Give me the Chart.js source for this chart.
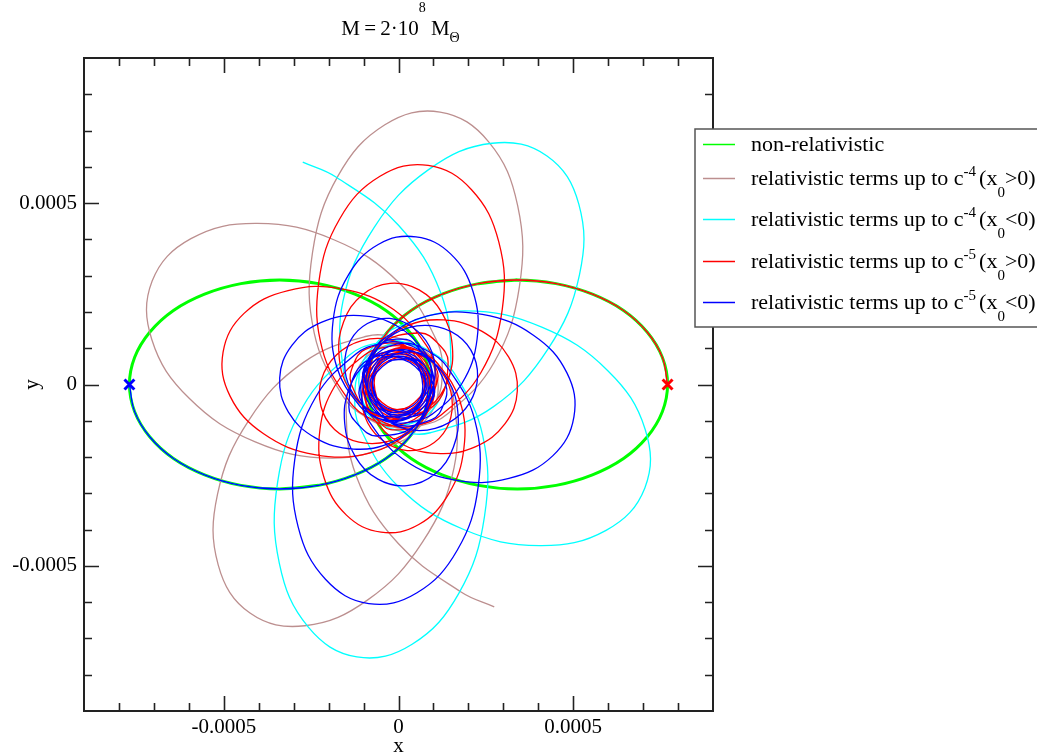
<!DOCTYPE html>
<html>
<head>
<meta charset="utf-8">
<script src="https://cdn.jsdelivr.net/npm/chart.js@4.4.1/dist/chart.umd.min.js"></script>
<style>
html,body{margin:0;padding:0;background:#fff;}
#wrap{width:1037px;height:754px;position:relative;}
</style>
</head>
<body>
<div id="wrap"><canvas id="c" width="1037" height="754"></canvas></div>
<script>
// ---------- texts ----------
const titleParts = [['M\u2009=\u20092·10','n'],['8','sup'],[' M','n'],['Θ','sub']];
const xTitle = 'x';
const yTitle = 'y';
const majorTicks = [-0.0005, 0, 0.0005];
const tickLabels = ['-0.0005', '0', '0.0005'];
const minorTicks = [-0.0008,-0.0007,-0.0006,-0.0004,-0.0003,-0.0002,-0.0001,0.0001,0.0002,0.0003,0.0004,0.0006,0.0007,0.0008];
const axisMin = -0.0009;
const axisMax = 0.0009;

const legendLabels = [
  [['non-relativistic','n']],
  [['relativistic terms up to c','n'],['-4','sup'],['(x','n'],['0','sub'],['>0)','n']],
  [['relativistic terms up to c','n'],['-4','sup'],['(x','n'],['0','sub'],['<0)','n']],
  [['relativistic terms up to c','n'],['-5','sup'],['(x','n'],['0','sub'],['>0)','n']],
  [['relativistic terms up to c','n'],['-5','sup'],['(x','n'],['0','sub'],['<0)','n']]
];
const seriesColors = ['#00ff00', '#bc8f8f', '#00ffff', '#ff0000', '#0000ff'];

// ---------- data ----------
const greenRight = [[3.4e-4,2.88e-4],[2.29e-4,2.78e-4],[1.25e-4,2.49e-4],[0.36e-4,2.04e-4],[-0.32e-4,1.44e-4],[-0.75e-4,0.75e-4],[-0.9e-4,0],[-0.75e-4,-0.75e-4],[-0.32e-4,-1.44e-4],[0.36e-4,-2.04e-4],[1.25e-4,-2.49e-4],[2.29e-4,-2.78e-4],[3.4e-4,-2.88e-4],[4.51e-4,-2.78e-4],[5.55e-4,-2.49e-4],[6.44e-4,-2.04e-4],[7.12e-4,-1.44e-4],[7.55e-4,-0.75e-4],[7.7e-4,0],[7.55e-4,0.75e-4],[7.12e-4,1.44e-4],[6.44e-4,2.04e-4],[5.55e-4,2.49e-4],[4.51e-4,2.78e-4],[3.4e-4,2.88e-4],[2.29e-4,2.78e-4]];
const greenLeft = [[-3.4e-4,-2.88e-4],[-2.29e-4,-2.78e-4],[-1.25e-4,-2.49e-4],[-0.36e-4,-2.04e-4],[0.32e-4,-1.44e-4],[0.75e-4,-0.75e-4],[0.9e-4,0],[0.75e-4,0.75e-4],[0.32e-4,1.44e-4],[-0.36e-4,2.04e-4],[-1.25e-4,2.49e-4],[-2.29e-4,2.78e-4],[-3.4e-4,2.88e-4],[-4.51e-4,2.78e-4],[-5.55e-4,2.49e-4],[-6.44e-4,2.04e-4],[-7.12e-4,1.44e-4],[-7.55e-4,0.75e-4],[-7.7e-4,0],[-7.55e-4,-0.75e-4],[-7.12e-4,-1.44e-4],[-6.44e-4,-2.04e-4],[-5.55e-4,-2.49e-4],[-4.51e-4,-2.78e-4],[-3.4e-4,-2.88e-4],[-2.29e-4,-2.78e-4]];

const brownPos = [
[7.7e-4,0],[7.55e-4,0.75e-4],[7.12e-4,1.44e-4],[6.44e-4,2.04e-4],[5.55e-4,2.49e-4],[4.51e-4,2.78e-4],[3.4e-4,2.88e-4],[2.29e-4,2.78e-4],[1.25e-4,2.49e-4],[0.36e-4,2.04e-4],[-0.32e-4,1.44e-4],[-0.75e-4,0.75e-4],[-0.92e-4,0],
[-0.85e-4,-0.73e-4],[-0.18e-4,-1.17e-4],
[0.61e-4,-1.14e-4],[1.39e-4,-0.82e-4],[2.73e-4,0.60e-4],[3.46e-4,2.70e-4],[3.41e-4,4.93e-4],[2.58e-4,6.69e-4],[1.19e-4,7.51e-4],[-0.39e-4,7.16e-4],[-1.73e-4,5.75e-4],[-2.46e-4,3.64e-4],[-2.41e-4,1.41e-4],[-1.57e-4,-0.35e-4],[-0.93e-4,-0.90e-4],[-0.18e-4,-1.17e-4],
[0.55e-4,-0.97e-4],[1.09e-4,-0.44e-4],
[1.25e-4,0.34e-4],[1.11e-4,1.17e-4],[0.03e-4,2.79e-4],[-1.85e-4,3.99e-4],[-4.04e-4,4.44e-4],[-5.94e-4,4.02e-4],[-7.05e-4,2.85e-4],[-7.06e-4,1.24e-4],[-5.99e-4,-0.38e-4],[-4.10e-4,-1.58e-4],[-1.92e-4,-2.03e-4],[-0.02e-4,-1.61e-4],[0.66e-4,-1.11e-4],[1.09e-4,-0.44e-4],
[1.07e-4,0.33e-4],[0.66e-4,0.98e-4],
[-0.07e-4,1.29e-4],[-0.91e-4,1.33e-4],[-2.72e-4,0.61e-4],[-4.28e-4,-0.98e-4],[-5.18e-4,-3.03e-4],[-5.16e-4,-4.97e-4],[-4.25e-4,-6.30e-4],[-2.68e-4,-6.65e-4],[-0.87e-4,-5.93e-4],[0.69e-4,-4.34e-4],[1.59e-4,-2.29e-4],[1.57e-4,-0.35e-4],[1.22e-4,0.42e-4],[0.66e-4,0.98e-4],
[-0.09e-4,1.12e-4],[-0.80e-4,0.86e-4],
[-1.27e-4,0.22e-4],[-1.50e-4,-0.59e-4],[-1.21e-4,-2.52e-4],[0,-4.39e-4],[1.79e-4,-5.72e-4],[2.74e-4,-6.13e-4]
];

const cyanNeg = [
[-7.7e-4,0],[-7.55e-4,-0.75e-4],[-7.12e-4,-1.44e-4],[-6.44e-4,-2.04e-4],[-5.55e-4,-2.49e-4],[-4.51e-4,-2.78e-4],[-3.4e-4,-2.88e-4],[-2.29e-4,-2.78e-4],[-1.25e-4,-2.49e-4],[-0.36e-4,-2.04e-4],[0.32e-4,-1.44e-4],[0.75e-4,-0.75e-4],[0.92e-4,0],
[0.85e-4,0.73e-4],[0.18e-4,1.17e-4],
[-0.61e-4,1.14e-4],[-1.39e-4,0.82e-4],[-2.73e-4,-0.60e-4],[-3.46e-4,-2.70e-4],[-3.41e-4,-4.93e-4],[-2.58e-4,-6.69e-4],[-1.19e-4,-7.51e-4],[0.39e-4,-7.16e-4],[1.73e-4,-5.75e-4],[2.46e-4,-3.64e-4],[2.41e-4,-1.41e-4],[1.57e-4,0.35e-4],[0.93e-4,0.90e-4],[0.18e-4,1.17e-4],
[-0.55e-4,0.97e-4],[-1.09e-4,0.44e-4],
[-1.25e-4,-0.34e-4],[-1.11e-4,-1.17e-4],[-0.03e-4,-2.79e-4],[1.85e-4,-3.99e-4],[4.04e-4,-4.44e-4],[5.94e-4,-4.02e-4],[7.05e-4,-2.85e-4],[7.06e-4,-1.24e-4],[5.99e-4,0.38e-4],[4.10e-4,1.58e-4],[1.92e-4,2.03e-4],[0.02e-4,1.61e-4],[-0.66e-4,1.11e-4],[-1.09e-4,0.44e-4],
[-1.07e-4,-0.33e-4],[-0.66e-4,-0.98e-4],
[0.07e-4,-1.29e-4],[0.91e-4,-1.33e-4],[2.72e-4,-0.61e-4],[4.28e-4,0.98e-4],[5.18e-4,3.03e-4],[5.16e-4,4.97e-4],[4.25e-4,6.30e-4],[2.68e-4,6.65e-4],[0.87e-4,5.93e-4],[-0.69e-4,4.34e-4],[-1.59e-4,2.29e-4],[-1.57e-4,0.35e-4],[-1.22e-4,-0.42e-4],[-0.66e-4,-0.98e-4],
[0.09e-4,-1.12e-4],[0.80e-4,-0.86e-4],
[1.27e-4,-0.22e-4],[1.50e-4,0.59e-4],[1.21e-4,2.52e-4],[0,4.39e-4],[-1.79e-4,5.72e-4],[-2.74e-4,6.13e-4]
];

const redPos = [
[7.7e-4,0],[7.55e-4,0.75e-4],[7.12e-4,1.44e-4],[6.44e-4,2.04e-4],[5.55e-4,2.49e-4],[4.51e-4,2.78e-4],[3.4e-4,2.88e-4],[2.29e-4,2.78e-4],[1.25e-4,2.49e-4],[0.36e-4,2.04e-4],[-0.32e-4,1.44e-4],[-0.75e-4,0.75e-4],[-0.92e-4,0],
[-0.83e-4,-0.72e-4],[-0.16e-4,-1.14e-4],
[0.54e-4,-1.12e-4],[1.22e-4,-0.84e-4],[2.36e-4,0.33e-4],[2.97e-4,2.08e-4],[2.87e-4,3.93e-4],[2.09e-4,5.37e-4],[0.85e-4,6.04e-4],[-0.53e-4,5.74e-4],[-1.68e-4,4.57e-4],[-2.28e-4,2.82e-4],[-2.18e-4,0.97e-4],[-1.40e-4,-0.47e-4],[-0.82e-4,-0.93e-4],[-0.16e-4,-1.14e-4],
[0.62e-4,-0.85e-4],[1.03e-4,-0.18e-4],
[1.04e-4,0.43e-4],[0.83e-4,1.03e-4],[-0.13e-4,2.06e-4],[-1.59e-4,2.63e-4],[-3.16e-4,2.59e-4],[-4.42e-4,1.96e-4],[-5.02e-4,0.89e-4],[-4.82e-4,-0.32e-4],[-3.86e-4,-1.36e-4],[-2.40e-4,-1.93e-4],[-0.83e-4,-1.89e-4],[0.43e-4,-1.25e-4],[0.83e-4,-0.76e-4],[1.03e-4,-0.18e-4],
[0.80e-4,0.59e-4],[0.13e-4,1.04e-4],
[-0.42e-4,1.02e-4],[-0.95e-4,0.83e-4],[-1.81e-4,-0.02e-4],[-2.25e-4,-1.26e-4],[-2.13e-4,-2.57e-4],[-1.49e-4,-3.60e-4],[-0.50e-4,-4.07e-4],[0.58e-4,-3.86e-4],[1.44e-4,-3.01e-4],[1.87e-4,-1.77e-4],[1.76e-4,-0.46e-4],[1.12e-4,0.58e-4],[0.65e-4,0.89e-4],[0.13e-4,1.04e-4],
[-0.61e-4,0.73e-4],[-1.0e-4,0.05e-4],
[-0.95e-4,-0.43e-4],[-0.76e-4,-0.88e-4],[0.02e-4,-1.60e-4],[1.10e-4,-1.90e-4],[2.21e-4,-1.71e-4],[3.05e-4,-1.08e-4],[3.40e-4,-0.18e-4],[3.15e-4,0.76e-4],[2.38e-4,1.47e-4],[1.29e-4,1.78e-4],[0.18e-4,1.59e-4],[-0.66e-4,0.96e-4],[-0.90e-4,0.53e-4],[-1.0e-4,0.05e-4],
[-0.63e-4,-0.65e-4],[0.08e-4,-0.95e-4],
[0.87e-4,-0.63e-4],[1.41e-4,0.11e-4],[1.54e-4,1.06e-4],[1.24e-4,1.98e-4],[0.59e-4,2.61e-4],[-0.24e-4,2.79e-4],[-1.04e-4,2.47e-4],[-1.57e-4,1.73e-4],[-1.70e-4,0.78e-4],[-1.41e-4,-0.13e-4],[-0.75e-4,-0.77e-4],[0.08e-4,-0.95e-4],
[0.72e-4,-0.50e-4],[0.87e-4,0.23e-4],
[0.48e-4,0.87e-4],[-0.23e-4,1.23e-4],[-1.05e-4,1.21e-4],[-1.77e-4,0.82e-4],[-2.20e-4,0.15e-4],[-2.22e-4,-0.60e-4],[-1.83e-4,-1.24e-4],[-1.13e-4,-1.59e-4],[-0.30e-4,-1.57e-4],[0.42e-4,-1.18e-4],[0.85e-4,-0.52e-4],[0.87e-4,0.23e-4],
[0.34e-4,0.78e-4],[-0.40e-4,0.75e-4],
[-0.88e-4,0.29e-4],[-1.05e-4,-0.37e-4],[-0.88e-4,-1.06e-4],[-0.40e-4,-1.58e-4],[0.25e-4,-1.82e-4],[0.89e-4,-1.68e-4],[1.37e-4,-1.22e-4],[1.54e-4,-0.55e-4],[1.37e-4,0.13e-4],[0.90e-4,0.66e-4],[0.25e-4,0.89e-4],[-0.40e-4,0.75e-4],
[-0.79e-4,0.12e-4],[-0.57e-4,-0.57e-4],
[-0.05e-4,-0.85e-4],[1.08e-4,-0.52e-4],[1.42e-4,0.62e-4],[1.13e-4,1.13e-4],[0.62e-4,1.42e-4],[-0.52e-4,1.08e-4],[-0.85e-4,-0.05e-4],[-0.57e-4,-0.57e-4],
[0.15e-4,-0.77e-4],[0.72e-4,-0.30e-4],
[0.78e-4,0.23e-4],[0.12e-4,1.08e-4],[-0.95e-4,0.97e-4],[-1.29e-4,0.55e-4],[-1.35e-4,0.01e-4],[-0.70e-4,-0.84e-4],[0.38e-4,-0.73e-4],[0.72e-4,-0.30e-4],
[0.62e-4,0.42e-4],[-0.03e-4,0.75e-4],
[-0.51e-4,0.60e-4],[-0.96e-4,-0.28e-4],[-0.44e-4,-1.14e-4],[0.04e-4,-1.25e-4],[0.52e-4,-1.10e-4],[0.98e-4,-0.22e-4],[0.46e-4,0.64e-4],[-0.03e-4,0.75e-4],
[-0.63e-4,0.35e-4],[-0.62e-4,-0.36e-4],
[-0.29e-4,-0.69e-4],[0.64e-4,-0.68e-4],[1.12e-4,0.12e-4],[1.00e-4,0.58e-4],[0.66e-4,0.91e-4],[-0.27e-4,0.90e-4],[-0.75e-4,0.09e-4],[-0.62e-4,-0.36e-4],
[0,-0.70e-4],[0.61e-4,-0.35e-4],
[0.72e-4,0.08e-4],[0.28e-4,0.83e-4],[-0.59e-4,0.84e-4],[-0.91e-4,0.53e-4],[-1.02e-4,0.09e-4],[-0.58e-4,-0.65e-4],[0.29e-4,-0.66e-4]
];

const blueNeg = [
[-7.7e-4,0],[-7.55e-4,-0.75e-4],[-7.12e-4,-1.44e-4],[-6.44e-4,-2.04e-4],[-5.55e-4,-2.49e-4],[-4.51e-4,-2.78e-4],[-3.4e-4,-2.88e-4],[-2.29e-4,-2.78e-4],[-1.25e-4,-2.49e-4],[-0.36e-4,-2.04e-4],[0.32e-4,-1.44e-4],[0.75e-4,-0.75e-4],[0.92e-4,0],
[0.83e-4,0.72e-4],[0.16e-4,1.14e-4],
[-0.54e-4,1.12e-4],[-1.22e-4,0.84e-4],[-2.36e-4,-0.33e-4],[-2.97e-4,-2.08e-4],[-2.87e-4,-3.93e-4],[-2.09e-4,-5.37e-4],[-0.85e-4,-6.04e-4],[0.53e-4,-5.74e-4],[1.68e-4,-4.57e-4],[2.28e-4,-2.82e-4],[2.18e-4,-0.97e-4],[1.40e-4,0.47e-4],[0.82e-4,0.93e-4],[0.16e-4,1.14e-4],
[-0.62e-4,0.85e-4],[-1.03e-4,0.18e-4],
[-1.04e-4,-0.43e-4],[-0.83e-4,-1.03e-4],[0.13e-4,-2.06e-4],[1.59e-4,-2.63e-4],[3.16e-4,-2.59e-4],[4.42e-4,-1.96e-4],[5.02e-4,-0.89e-4],[4.82e-4,0.32e-4],[3.86e-4,1.36e-4],[2.40e-4,1.93e-4],[0.83e-4,1.89e-4],[-0.43e-4,1.25e-4],[-0.83e-4,0.76e-4],[-1.03e-4,0.18e-4],
[-0.80e-4,-0.59e-4],[-0.13e-4,-1.04e-4],
[0.42e-4,-1.02e-4],[0.95e-4,-0.83e-4],[1.81e-4,0.02e-4],[2.25e-4,1.26e-4],[2.13e-4,2.57e-4],[1.49e-4,3.60e-4],[0.50e-4,4.07e-4],[-0.58e-4,3.86e-4],[-1.44e-4,3.01e-4],[-1.87e-4,1.77e-4],[-1.76e-4,0.46e-4],[-1.12e-4,-0.58e-4],[-0.65e-4,-0.89e-4],[-0.13e-4,-1.04e-4],
[0.61e-4,-0.73e-4],[1.0e-4,-0.05e-4],
[0.95e-4,0.43e-4],[0.76e-4,0.88e-4],[-0.02e-4,1.60e-4],[-1.10e-4,1.90e-4],[-2.21e-4,1.71e-4],[-3.05e-4,1.08e-4],[-3.40e-4,0.18e-4],[-3.15e-4,-0.76e-4],[-2.38e-4,-1.47e-4],[-1.29e-4,-1.78e-4],[-0.18e-4,-1.59e-4],[0.66e-4,-0.96e-4],[0.90e-4,-0.53e-4],[1.0e-4,-0.05e-4],
[0.63e-4,0.65e-4],[-0.08e-4,0.95e-4],
[-0.87e-4,0.63e-4],[-1.41e-4,-0.11e-4],[-1.54e-4,-1.06e-4],[-1.24e-4,-1.98e-4],[-0.59e-4,-2.61e-4],[0.24e-4,-2.79e-4],[1.04e-4,-2.47e-4],[1.57e-4,-1.73e-4],[1.70e-4,-0.78e-4],[1.41e-4,0.13e-4],[0.75e-4,0.77e-4],[-0.08e-4,0.95e-4],
[-0.72e-4,0.50e-4],[-0.87e-4,-0.23e-4],
[-0.48e-4,-0.87e-4],[0.23e-4,-1.23e-4],[1.05e-4,-1.21e-4],[1.77e-4,-0.82e-4],[2.20e-4,-0.15e-4],[2.22e-4,0.60e-4],[1.83e-4,1.24e-4],[1.13e-4,1.59e-4],[0.30e-4,1.57e-4],[-0.42e-4,1.18e-4],[-0.85e-4,0.52e-4],[-0.87e-4,-0.23e-4],
[-0.34e-4,-0.78e-4],[0.40e-4,-0.75e-4],
[0.88e-4,-0.29e-4],[1.05e-4,0.37e-4],[0.88e-4,1.06e-4],[0.40e-4,1.58e-4],[-0.25e-4,1.82e-4],[-0.89e-4,1.68e-4],[-1.37e-4,1.22e-4],[-1.54e-4,0.55e-4],[-1.37e-4,-0.13e-4],[-0.90e-4,-0.66e-4],[-0.25e-4,-0.89e-4],[0.40e-4,-0.75e-4],
[0.79e-4,-0.12e-4],[0.57e-4,0.57e-4],
[0.05e-4,0.85e-4],[-1.08e-4,0.52e-4],[-1.42e-4,-0.62e-4],[-1.13e-4,-1.13e-4],[-0.62e-4,-1.42e-4],[0.52e-4,-1.08e-4],[0.85e-4,0.05e-4],[0.57e-4,0.57e-4],
[-0.15e-4,0.77e-4],[-0.72e-4,0.30e-4],
[-0.78e-4,-0.23e-4],[-0.12e-4,-1.08e-4],[0.95e-4,-0.97e-4],[1.29e-4,-0.55e-4],[1.35e-4,-0.01e-4],[0.70e-4,0.84e-4],[-0.38e-4,0.73e-4],[-0.72e-4,0.30e-4],
[-0.62e-4,-0.42e-4],[0.03e-4,-0.75e-4],
[0.51e-4,-0.60e-4],[0.96e-4,0.28e-4],[0.44e-4,1.14e-4],[-0.04e-4,1.25e-4],[-0.52e-4,1.10e-4],[-0.98e-4,0.22e-4],[-0.46e-4,-0.64e-4],[0.03e-4,-0.75e-4],
[0.63e-4,-0.35e-4],[0.62e-4,0.36e-4],
[0.29e-4,0.69e-4],[-0.64e-4,0.68e-4],[-1.12e-4,-0.12e-4],[-1.00e-4,-0.58e-4],[-0.66e-4,-0.91e-4],[0.27e-4,-0.90e-4],[0.75e-4,-0.09e-4],[0.62e-4,0.36e-4],
[0,0.70e-4],[-0.61e-4,0.35e-4],
[-0.72e-4,-0.08e-4],[-0.28e-4,-0.83e-4],[0.59e-4,-0.84e-4],[0.91e-4,-0.53e-4],[1.02e-4,-0.09e-4],[0.58e-4,0.65e-4],[-0.29e-4,0.66e-4]
];

const startRed = [[7.7e-4, 0]];
const startBlue = [[-7.7e-4, 0]];

// ---------- chart ----------
const FONT = '"Liberation Serif", "Times New Roman", serif';

function drawRich(ctx, parts, x, y, big, small, center, supDy, subDy, supGap) {
  const fontFor = t => (t === 'n' ? big : small) + 'px ' + FONT;
  const gapAfter = t => (t === 'sup' ? supGap : 0);
  let w = 0;
  parts.forEach(([s, t]) => { ctx.font = fontFor(t); w += ctx.measureText(s).width + gapAfter(t); });
  let cx = center ? x - w / 2 : x;
  parts.forEach(([s, t]) => {
    ctx.font = fontFor(t);
    const dy = t === 'sup' ? supDy : (t === 'sub' ? subDy : 0);
    ctx.fillText(s, cx, y + dy);
    cx += ctx.measureText(s).width + gapAfter(t);
  });
}

const decorPlugin = {
  id: 'decor',
  afterDraw(chart) {
    const {ctx, chartArea: a, scales: {x, y}} = chart;
    ctx.save();
    // frame
    ctx.strokeStyle = '#222';
    ctx.lineWidth = 2;
    ctx.strokeRect(a.left, a.top, a.right - a.left, a.bottom - a.top);
    // inward ticks on all four sides
    ctx.lineWidth = 1.6;
    const ticks = (vals, len) => {
      ctx.beginPath();
      vals.forEach(v => {
        const px = Math.round(x.getPixelForValue(v)) + 0.5;
        const py = Math.round(y.getPixelForValue(v)) + 0.5;
        ctx.moveTo(px, a.bottom); ctx.lineTo(px, a.bottom - len);
        ctx.moveTo(px, a.top); ctx.lineTo(px, a.top + len);
        ctx.moveTo(a.left, py); ctx.lineTo(a.left + len, py);
        ctx.moveTo(a.right, py); ctx.lineTo(a.right - len, py);
      });
      ctx.stroke();
    };
    ticks(majorTicks, 15);
    ticks(minorTicks, 8);

    // title
    ctx.fillStyle = '#000';
    ctx.textBaseline = 'alphabetic';
    ctx.textAlign = 'left';
    drawRich(ctx, titleParts, (a.left + a.right) / 2 + 2, 35, 21, 14, true, -23, 7, 0);

    // legend box
    const bx = 695, by = 129, bw = 360, bh = 198;
    ctx.fillStyle = '#fff';
    ctx.fillRect(bx, by, bw, bh);
    ctx.strokeStyle = '#555';
    ctx.lineWidth = 1.5;
    ctx.strokeRect(bx, by, bw, bh);
    const rowY = [144, 178, 219, 261, 302];
    legendLabels.forEach((parts, i) => {
      ctx.strokeStyle = seriesColors[i];
      ctx.lineWidth = 1.5;
      ctx.beginPath();
      ctx.moveTo(703, rowY[i] + 0.5);
      ctx.lineTo(735, rowY[i] + 0.5);
      ctx.stroke();
      ctx.fillStyle = '#000';
      drawRich(ctx, parts, 751, rowY[i] + 7, 22, 15, false, -9, 12, 3);
    });
    ctx.restore();
  }
};

const curve = (data, color, width, order) => ({
  data, borderColor: color, backgroundColor: color, borderWidth: width,
  showLine: true, pointRadius: 0, pointHoverRadius: 0, tension: 0.4, fill: false, order
});

new Chart(document.getElementById('c'), {
  type: 'scatter',
  data: {
    datasets: [
      {data: startRed, showLine: false, pointStyle: 'crossRot', pointRadius: 7, pointBorderWidth: 3, borderColor: '#ff0000', backgroundColor: '#ff0000', order: 0},
      {data: startBlue, showLine: false, pointStyle: 'crossRot', pointRadius: 7, pointBorderWidth: 3, borderColor: '#0000ff', backgroundColor: '#0000ff', order: 0},
      curve(blueNeg, seriesColors[4], 1.3, 1),
      curve(redPos, seriesColors[3], 1.3, 2),
      curve(cyanNeg, seriesColors[2], 1.3, 3),
      curve(brownPos, seriesColors[1], 1.3, 4),
      curve(greenLeft, seriesColors[0], 3, 5),
      curve(greenRight, seriesColors[0], 3, 5)
    ]
  },
  options: {
    responsive: false,
    animation: false,
    devicePixelRatio: 1,
    events: [],
    layout: {padding: {left: 0, right: 324, top: 58, bottom: 0}},
    plugins: {legend: {display: false}, tooltip: {enabled: false}, title: {display: false}},
    scales: {
      x: {
        type: 'linear', position: 'bottom', min: axisMin, max: axisMax,
        afterBuildTicks: s => { s.ticks = majorTicks.map(v => ({value: v})); },
        afterFit: s => { s.height = 43; },
        grid: {display: false, drawTicks: false},
        border: {display: false},
        ticks: {padding: 4, color: '#000', autoSkip: false, maxRotation: 0,
          font: {size: 21, family: FONT},
          callback: v => tickLabels[majorTicks.indexOf(v)]},
        title: {display: true, text: xTitle, color: '#000', font: {size: 21, family: FONT, lineHeight: 1}, padding: {top: 0, bottom: -3}}
      },
      y: {
        type: 'linear', position: 'left', min: axisMin, max: axisMax,
        afterBuildTicks: s => { s.ticks = majorTicks.map(v => ({value: v})); },
        afterFit: s => { s.width = 84; },
        grid: {display: false, drawTicks: false},
        border: {display: false},
        ticks: {padding: 7, color: '#000', autoSkip: false,
          font: {size: 21, family: FONT},
          callback: v => tickLabels[majorTicks.indexOf(v)]},
        title: {display: true, text: yTitle, color: '#000', font: {size: 21, family: FONT, lineHeight: 1}, padding: {top: 22, bottom: 0}}
      }
    }
  },
  plugins: [decorPlugin]
});
</script>
</body>
</html>
